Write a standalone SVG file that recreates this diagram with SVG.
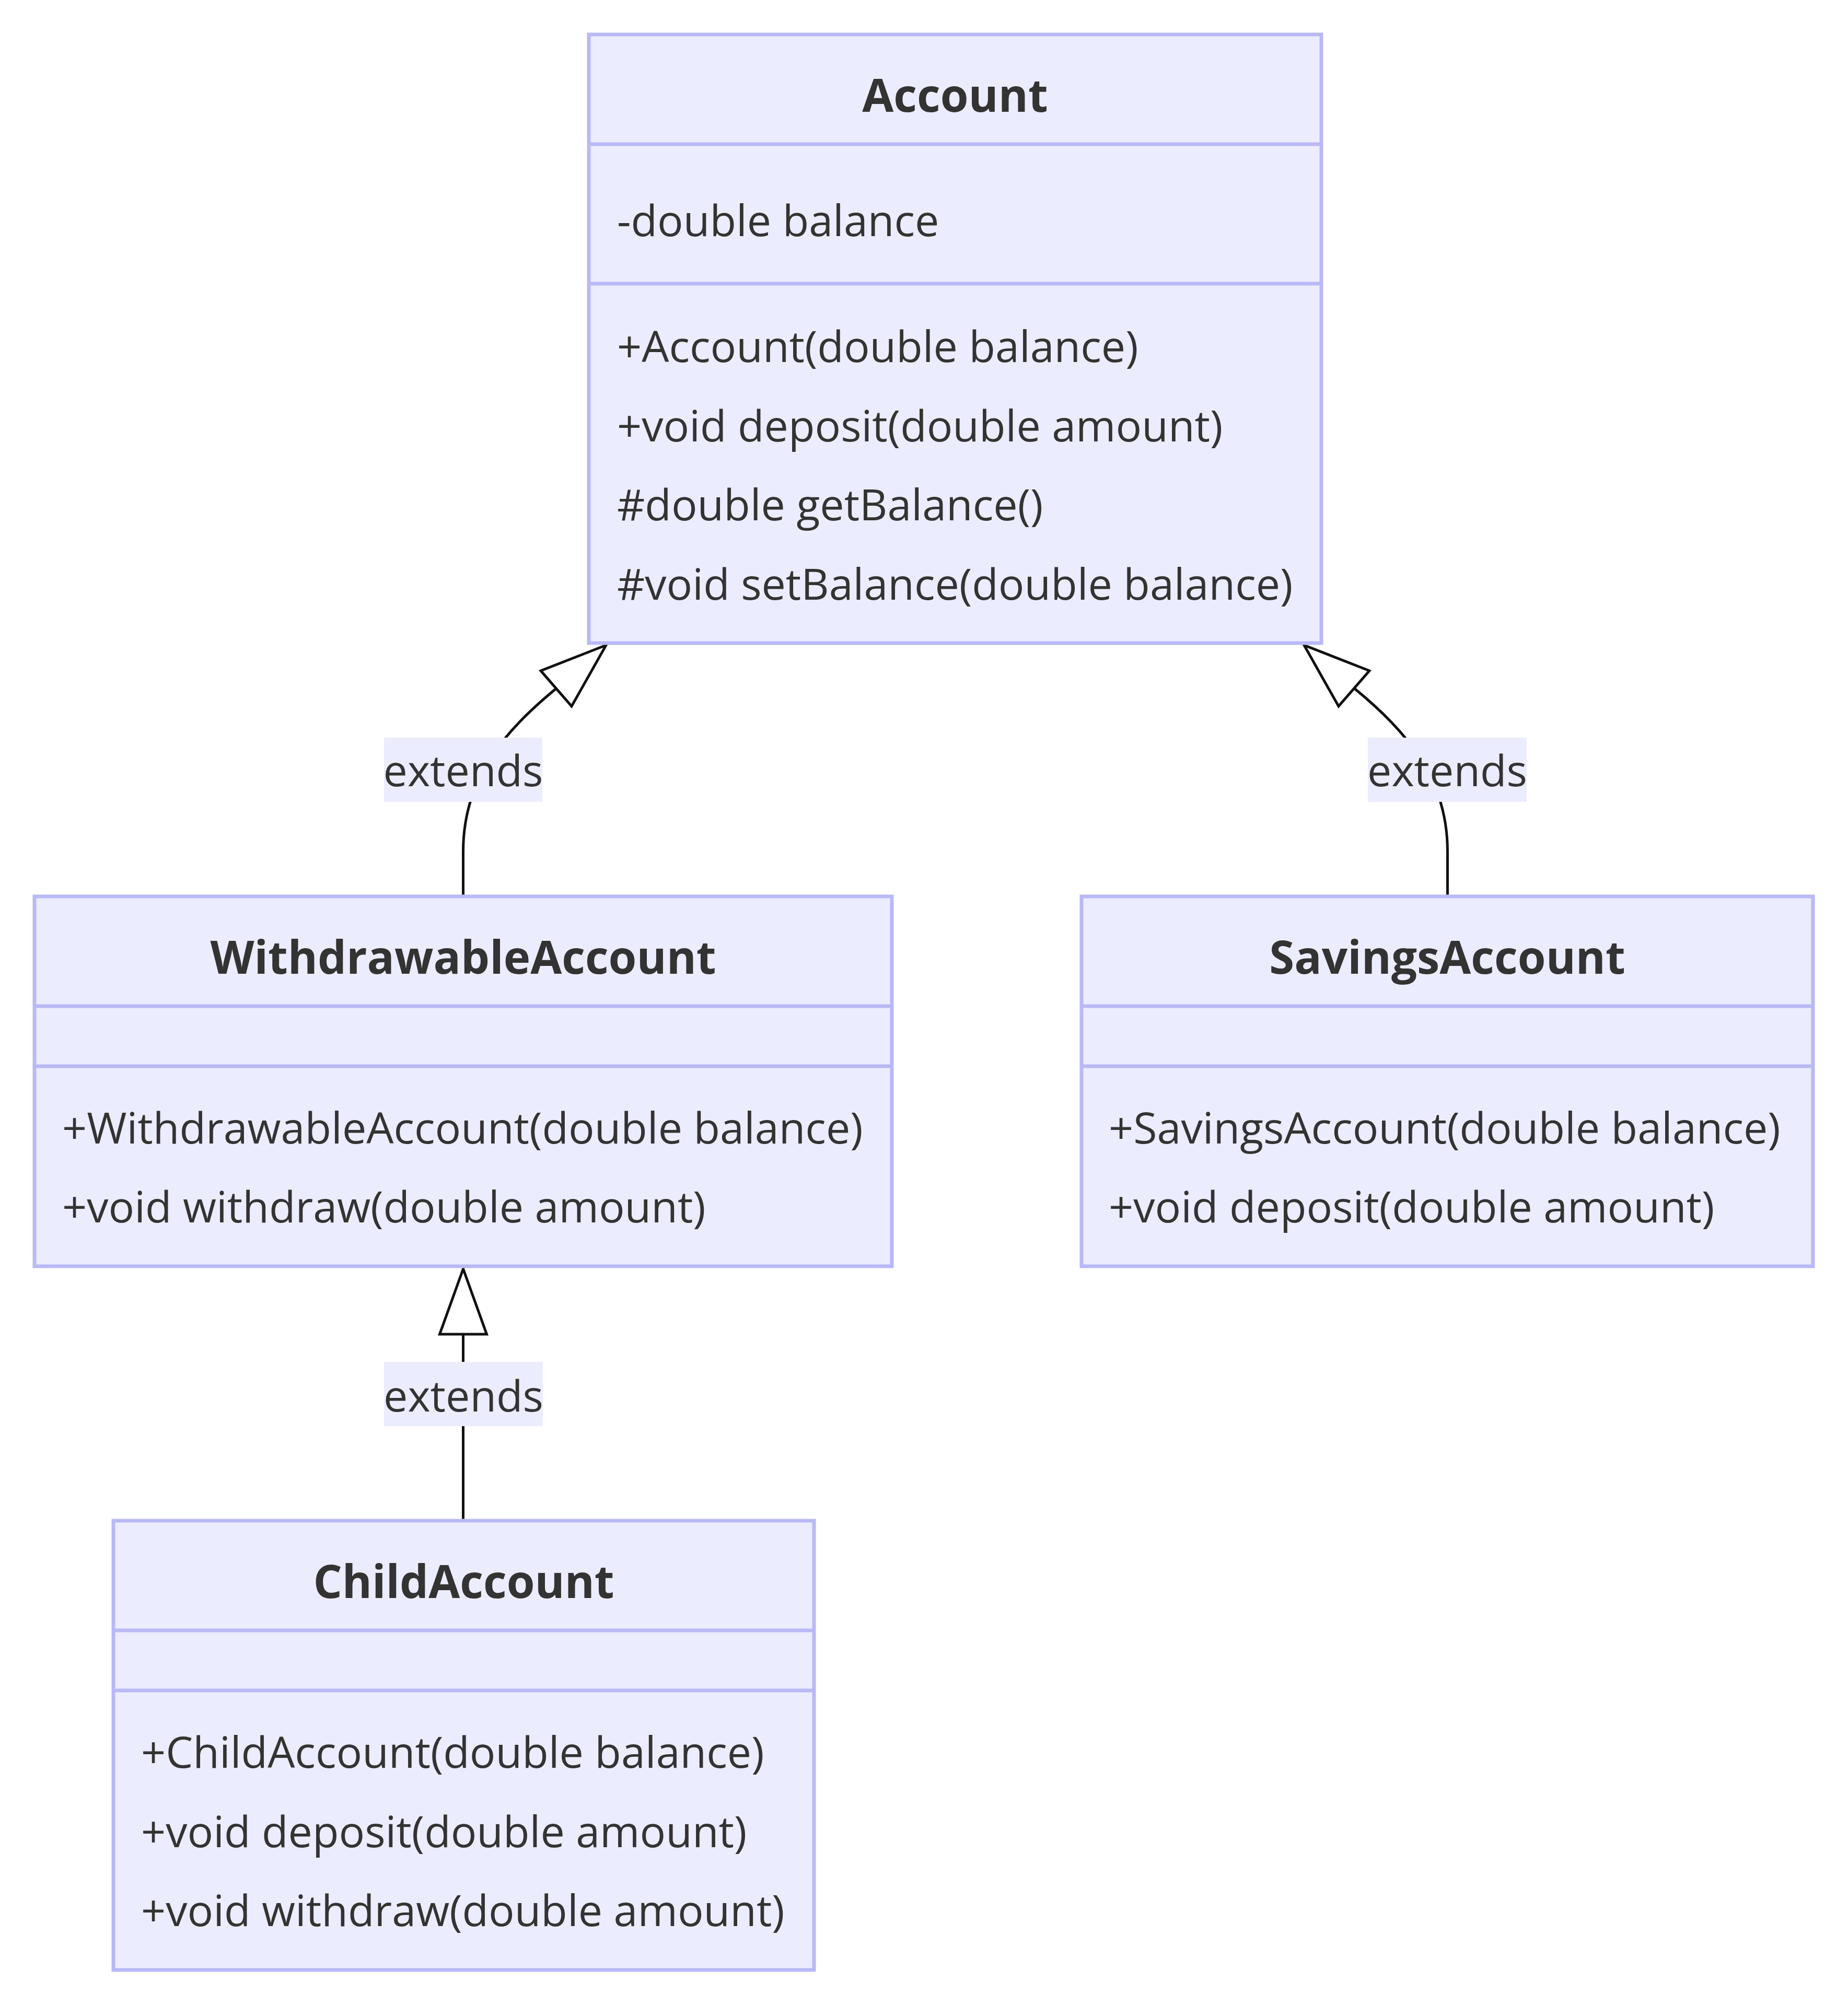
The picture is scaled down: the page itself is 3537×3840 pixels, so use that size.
<svg xmlns="http://www.w3.org/2000/svg" width="3537" height="3840" viewBox="0 0 3537 3840">
<style>
.box{fill:#ECECFF;stroke:#B9B9F7;stroke-width:7}
.div{stroke:#B9B9F7;stroke-width:7}
.t{font-family:"Open Sans","Noto Sans",sans-serif;font-size:82.6px;fill:#333}
.title{font-family:"Open Sans","Noto Sans",sans-serif;font-size:87px;font-weight:bold;fill:#333;text-anchor:middle}
.edge{fill:none;stroke:#111;stroke-width:5}
.head{fill:none;stroke:#111;stroke-width:5;stroke-linejoin:miter}
.lbl{fill:#ECECFF}
.lt{font-family:"Open Sans","Noto Sans",sans-serif;font-size:82.6px;fill:#333;text-anchor:middle}
</style>
<rect width="3537" height="3840" fill="#fff"/>
<g id="connectors">
  <path class="edge" d="M 886.5 1716 L 886.5 1630 C 886.5 1490 965 1400 1064.5 1318"/>
  <polygon class="head" points="1160,1235 1035,1284 1094,1352"/>
  <path class="edge" d="M 2770.5 1716 L 2770.5 1630 C 2770.5 1490 2692 1400 2592.5 1318"/>
  <polygon class="head" points="2496,1235 2621,1284 2562,1352"/>
  <path class="edge" d="M 886.5 2911 L 886.5 2554"/>
  <polygon class="head" points="886.5,2429 841.5,2554 931.5,2554"/>
  <g id="label-1">
    <rect class="lbl" x="735" y="1412" width="303" height="123"/>
    <text class="lt" x="886.5" y="1505">extends</text>
  </g>
  <g id="label-2">
    <rect class="lbl" x="2618" y="1412" width="304" height="123"/>
    <text class="lt" x="2770" y="1505">extends</text>
  </g>
  <g id="label-3">
    <rect class="lbl" x="735" y="2607" width="304" height="123"/>
    <text class="lt" x="887" y="2702">extends</text>
  </g>
</g>
<g id="Account">
  <rect class="box" x="1127" y="66" width="1402" height="1165"/>
  <line class="div" x1="1127" y1="276" x2="2529" y2="276"/>
  <line class="div" x1="1127" y1="543" x2="2529" y2="543"/>
  <text class="title" x="1828" y="214">Account</text>
  <text class="t" x="1181" y="452">-double balance</text>
  <text class="t" x="1181" y="693">+Account(double balance)</text>
  <text class="t" x="1181" y="844.5">+void deposit(double amount)</text>
  <text class="t" x="1181" y="996">#double getBalance()</text>
  <text class="t" x="1181" y="1147.5">#void setBalance(double balance)</text>
</g>
<g id="WithdrawableAccount">
  <rect class="box" x="66" y="1716" width="1641" height="708"/>
  <line class="div" x1="66" y1="1926" x2="1707" y2="1926"/>
  <line class="div" x1="66" y1="2041" x2="1707" y2="2041"/>
  <text class="title" x="886.5" y="1864">WithdrawableAccount</text>
  <text class="t" x="119" y="2189">+WithdrawableAccount(double balance)</text>
  <text class="t" x="119" y="2340">+void withdraw(double amount)</text>
</g>
<g id="SavingsAccount">
  <rect class="box" x="2070" y="1716" width="1400" height="708"/>
  <line class="div" x1="2070" y1="1926" x2="3470" y2="1926"/>
  <line class="div" x1="2070" y1="2041" x2="3470" y2="2041"/>
  <text class="title" x="2770" y="1864">SavingsAccount</text>
  <text class="t" x="2122" y="2189">+SavingsAccount(double balance)</text>
  <text class="t" x="2122" y="2340">+void deposit(double amount)</text>
</g>
<g id="ChildAccount">
  <rect class="box" x="217" y="2911" width="1341" height="860"/>
  <line class="div" x1="217" y1="3121" x2="1558" y2="3121"/>
  <line class="div" x1="217" y1="3236" x2="1558" y2="3236"/>
  <text class="title" x="887.5" y="3059">ChildAccount</text>
  <text class="t" x="270" y="3384">+ChildAccount(double balance)</text>
  <text class="t" x="270" y="3535.5">+void deposit(double amount)</text>
  <text class="t" x="270" y="3687">+void withdraw(double amount)</text>
</g>
</svg>
